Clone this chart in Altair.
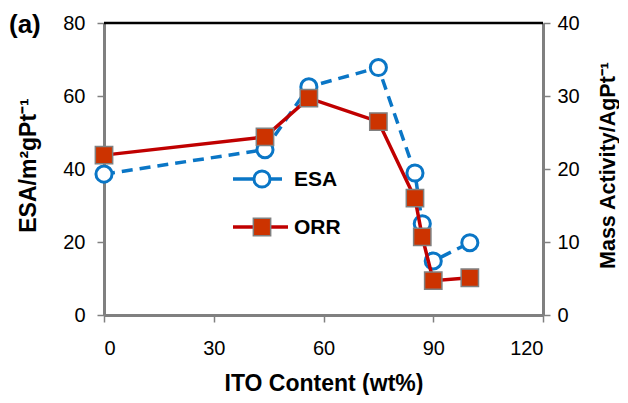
import altair as alt
import pandas as pd

ito = [0, 44, 56, 75, 85, 87, 90, 100]
esa = [38.6, 45.3, 62.5, 67.8, 38.9, 25.0, 14.8, 19.8]
orr = [21.9, 24.4, 29.7, 26.5, 16.0, 10.7, 4.7, 5.1]
x_ticks = [0, 30, 60, 90, 120]
left_ticks = [0, 20, 40, 60, 80]
right_ticks = [0, 10, 20, 30, 40]
legend_labels = ["ESA", "ORR"]
panel_label = "(a)"

BLUE = "#0A76C6"
RED = "#C00000"
SQ = "#CC3300"
GRAY = "#808080"
FONT = "Liberation Sans"
W, H = 439, 292

df = pd.DataFrame({"ito": ito, "esa": esa, "orr": orr})
one = pd.DataFrame({"k": [0]})

axis_common = dict(
    domainColor=GRAY, domainWidth=3, tickColor=GRAY, tickWidth=1.5, tickSize=7,
    labelFont=FONT, labelFontSize=20, labelColor="black", grid=False,
    titleFont=FONT, titleFontWeight="bold", titleColor="black",
    zindex=0,
)

x_enc = alt.X(
    "ito:Q",
    scale=alt.Scale(domain=[0, 120], nice=False, zero=False),
    axis=alt.Axis(values=x_ticks, title="ITO Content (wt%)", labelPadding=16, titleFontSize=23,
                  titleX=W / 2, titleY=68, titleBaseline="middle", **axis_common),
)

y_left = alt.Y(
    "esa:Q",
    scale=alt.Scale(domain=[0, 80], nice=False),
    axis=alt.Axis(values=left_ticks, orient="left", title="ESA/m²gPt⁻¹", labelPadding=12,
                  titleFontSize=23, titleAngle=270, titleX=-76, titleY=142, titleAlign="center",
                  titleBaseline="middle", **axis_common),
)
y_right = alt.Y(
    "orr:Q",
    scale=alt.Scale(domain=[0, 40], nice=False),
    axis=alt.Axis(values=right_ticks, orient="right", title="Mass Activity/AgPt⁻¹", labelPadding=7,
                  titleFontSize=21.5, titleAngle=270, titleX=65, titleY=142, titleAlign="center",
                  titleBaseline="middle", **axis_common),
)

base = alt.Chart(df)
esa_line = base.mark_line(color=BLUE, strokeWidth=3.5, strokeDash=[11, 7]).encode(x=x_enc, y=y_left)
esa_pts = base.mark_point(shape="circle", filled=True, fill="white", stroke=BLUE, strokeWidth=3,
                          size=260, opacity=1).encode(x=x_enc, y=y_left)
orr_line = base.mark_line(color=RED, strokeWidth=3.5).encode(x=x_enc, y=y_right)
orr_pts = base.mark_point(shape="square", filled=True, fill=SQ, stroke=GRAY, strokeWidth=1.5,
                          size=300, opacity=1).encode(x=x_enc, y=y_right)

lg = alt.Chart(one)
leg = alt.layer(
    lg.mark_rule(color=BLUE, strokeWidth=3.5).encode(x=alt.value(129), x2=alt.value(178), y=alt.value(156)),
    lg.mark_point(shape="circle", filled=True, fill="white", stroke=BLUE, strokeWidth=3, size=260,
                  opacity=1).encode(x=alt.value(158), y=alt.value(156)),
    lg.mark_text(align="left", baseline="middle", font=FONT, fontSize=21, fontWeight="bold",
                 color="black").encode(x=alt.value(190), y=alt.value(157), text=alt.value(legend_labels[0])),
    lg.mark_rule(color=RED, strokeWidth=3.5).encode(x=alt.value(129), x2=alt.value(184), y=alt.value(204)),
    lg.mark_point(shape="square", filled=True, fill=SQ, stroke=GRAY, strokeWidth=1.5, size=300,
                  opacity=1).encode(x=alt.value(158), y=alt.value(204)),
    lg.mark_text(align="left", baseline="middle", font=FONT, fontSize=21, fontWeight="bold",
                 color="black").encode(x=alt.value(190), y=alt.value(205), text=alt.value(legend_labels[1])),
    lg.mark_rule(color="black", strokeWidth=2.5).encode(x=alt.value(0), x2=alt.value(W), y=alt.value(0)),
    lg.mark_text(align="left", baseline="middle", font=FONT, fontSize=26, fontWeight="bold",
                 color="black").encode(x=alt.value(-95), y=alt.value(2), text=alt.value(panel_label)),
)

left = alt.layer(esa_line, esa_pts)
right = alt.layer(orr_line, orr_pts)

chart = alt.layer(left, right, leg).resolve_scale(y="independent").properties(
    width=W, height=H,
    autosize=alt.AutoSizeParams(type="none"),
    padding={"left": 96, "top": 15, "right": 76, "bottom": 80},
).configure_view(stroke=None).configure(background="white")

chart.save("out.html", embed_options={"renderer": "svg", "actions": False})
